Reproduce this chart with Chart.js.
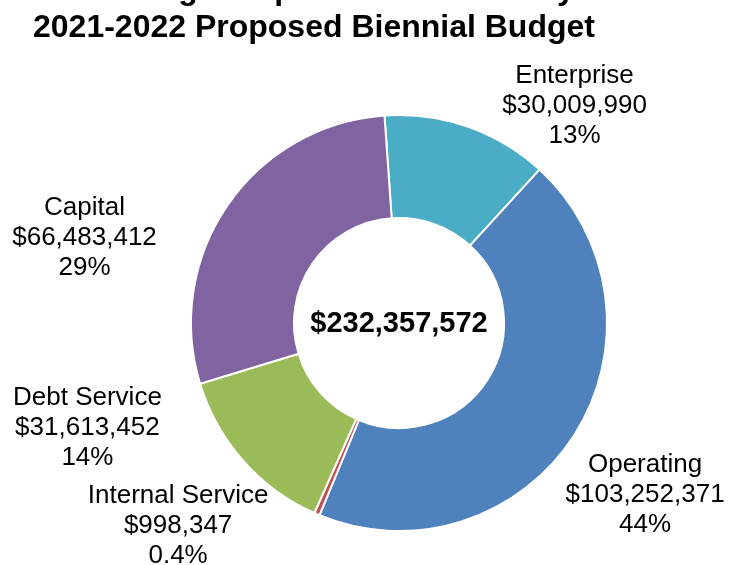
<!DOCTYPE html>
<html>
<head>
<meta charset="utf-8">
<title>2021-2022 Proposed Biennial Budget</title>
<script src="https://cdn.jsdelivr.net/npm/chart.js@4/dist/chart.umd.min.js"></script>
<style>
    html, body { margin: 0; padding: 0; background: #fff; }
    #wrap { width: 730px; height: 565px; position: relative; }
</style>
</head>
<body>
<div id="wrap"><canvas id="budgetChart"></canvas></div>
<script>
// Fund types, clockwise from the top
const fundTypes = ['Enterprise', 'Operating', 'Internal Service', 'Debt Service', 'Capital'];
const fundAmounts = [30009990, 103252371, 998347, 31613452, 66483412];
const fundColors = ['#4BACC6', '#4F81BD', '#C0504D', '#9BBB59', '#8064A2'];

const titleLines = ['Budget Expenditure Summary', '2021-2022 Proposed Biennial Budget'];

const FONT = '"Liberation Sans", Arial, Helvetica, sans-serif';
const total = fundAmounts.reduce((s, v) => s + v, 0);

const money = v => '$' + v.toLocaleString('en-US');
const pct = v => {
    const p = v / total * 100;
    return (p < 1 ? p.toFixed(1) : Math.round(p)) + '%';
};

// where each label block sits, in units of the outer radius from the centre
const labelOffsets = [[0.844, -1.048], [1.183, 0.822], [-1.062, 0.971], [-1.498, 0.5], [-1.512, -0.413]];

const budgetText = {
    id: 'budgetText',
    afterDraw(chart) {
        const ctx = chart.ctx;
        const arc = chart.getDatasetMeta(0).data[0];
        const cx = arc.x, cy = arc.y, r = arc.outerRadius;

        ctx.save();
        ctx.fillStyle = '#000';

        // title (first line is clipped by the top edge)
        ctx.font = 'bold 32px ' + FONT;
        ctx.textAlign = 'left';
        ctx.textBaseline = 'alphabetic';
        ctx.fillText(titleLines[0], 116, -1);
        ctx.fillText(titleLines[1], 33, 37);

        // total in the hole
        ctx.font = 'bold 29px ' + FONT;
        ctx.textAlign = 'center';
        ctx.textBaseline = 'middle';
        ctx.fillText(money(total), cx, cy + 1);

        // category labels
        ctx.font = '26px ' + FONT;
        fundTypes.forEach((name, i) => {
            const x = cx + labelOffsets[i][0] * r;
            const y = cy + labelOffsets[i][1] * r;
            const lines = [name, money(fundAmounts[i]), pct(fundAmounts[i])];
            lines.forEach((t, k) => ctx.fillText(t, x, y + (k - 1) * 30 + 1));
        });
        ctx.restore();
    }
};

new Chart(document.getElementById('budgetChart'), {
    type: 'doughnut',
    data: {
        labels: fundTypes,
        datasets: [{
            data: fundAmounts,
            backgroundColor: fundColors,
            borderColor: '#fff',
            borderWidth: 2
        }]
    },
    options: {
        responsive: true,
        maintainAspectRatio: false,
        animation: false,
        rotation: -4,
        cutout: '50.5%',
        layout: { padding: { left: 190, right: 122, top: 114, bottom: 33 } },
        plugins: {
            legend: { display: false },
            tooltip: { enabled: false },
            title: { display: false }
        }
    },
    plugins: [budgetText]
});
</script>
</body>
</html>
